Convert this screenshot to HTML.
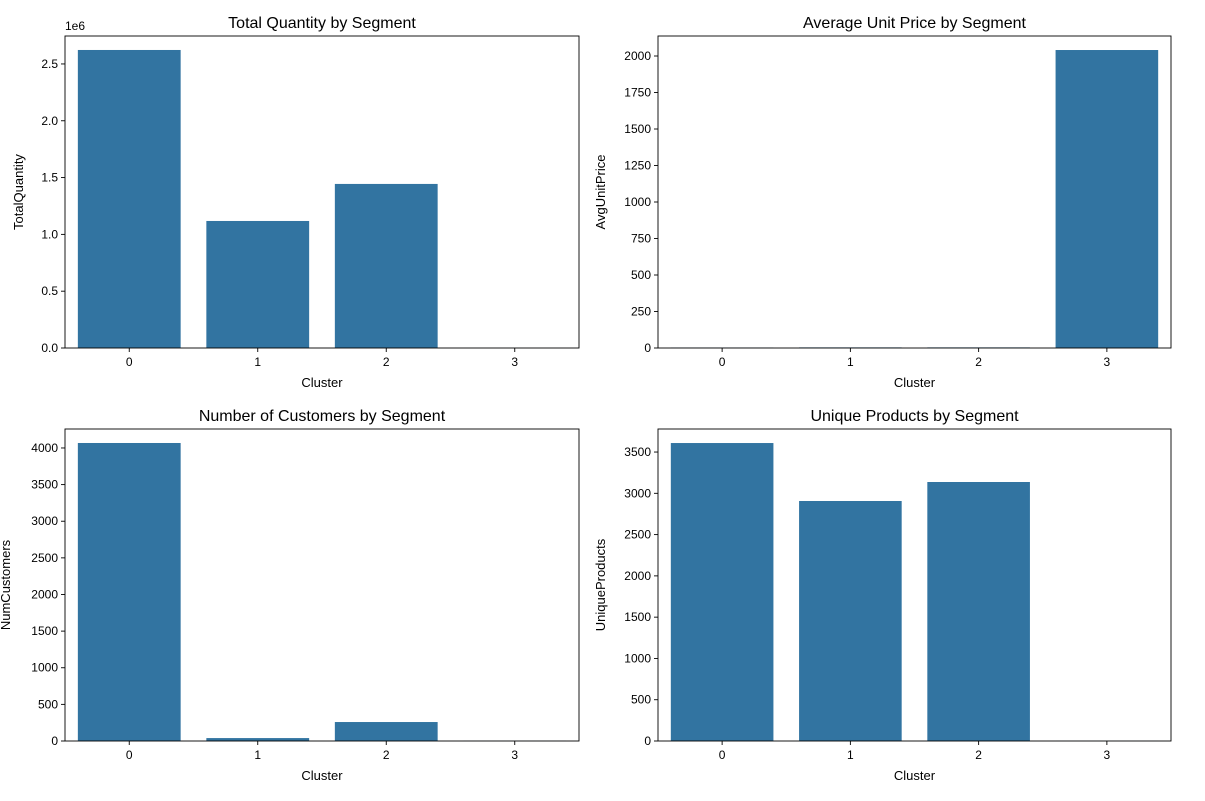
<!DOCTYPE html>
<html><head><meta charset="utf-8"><style>
body{margin:0;background:#fff;}
svg{display:block;font-family:"Liberation Sans","DejaVu Sans",sans-serif;}
</style></head><body>
<svg id="fig" width="1205" height="801"></svg>
<script>
const categories = ["0","1","2","3"];
const qtyValues = [2.623, 1.118, 1.444, 0.0005];
const priceValues = [3, 4, 4, 2041];
const custValues = [4068, 40, 259, 2];
const prodValues = [3609, 2907, 3137, 1];
const qtyTicks = [0, 0.5, 1.0, 1.5, 2.0, 2.5];
const qtyTickLabels = ["0.0","0.5","1.0","1.5","2.0","2.5"];
const priceTicks = [0,250,500,750,1000,1250,1500,1750,2000];
const custTicks = [0,500,1000,1500,2000,2500,3000,3500,4000];
const prodTicks = [0,500,1000,1500,2000,2500,3000,3500];

const NS="http://www.w3.org/2000/svg";
const svg=document.getElementById('fig');
function mk(tag,attrs,parent){const e=document.createElementNS(NS,tag);for(const k in attrs)e.setAttribute(k,attrs[k]);(parent||svg).appendChild(e);return e;}

const panels=[
 {name:"total-quantity",title:"Total Quantity by Segment",ylabel:"TotalQuantity",vals:qtyValues,ticks:qtyTicks,labels:qtyTickLabels,ymax:2.746,x0:65,x1:579,y0:36,y1:348,offset:"1e6"},
 {name:"avg-unit-price",title:"Average Unit Price by Segment",ylabel:"AvgUnitPrice",vals:priceValues,ticks:priceTicks,labels:priceTicks.map(String),ymax:2137,x0:658,x1:1171,y0:36,y1:348},
 {name:"num-customers",title:"Number of Customers by Segment",ylabel:"NumCustomers",vals:custValues,ticks:custTicks,labels:custTicks.map(String),ymax:4259,x0:65,x1:579,y0:429,y1:741},
 {name:"unique-products",title:"Unique Products by Segment",ylabel:"UniqueProducts",vals:prodValues,ticks:prodTicks,labels:prodTicks.map(String),ymax:3779,x0:658,x1:1171,y0:429,y1:741}
];

panels.forEach(p=>{
 const g=mk('g',{});
 
 
 const w=p.x1-p.x0,h=p.y1-p.y0;
 const ys=v=>p.y1-v/p.ymax*h;
 const band=w/categories.length;
 const xs=i=>p.x0+band*(i+0.5);
 p.vals.forEach((v,i)=>{
  const bw=band*0.8;
  const r=mk('rect',{x:xs(i)-bw/2,y:ys(v),width:bw,height:p.y1-ys(v),fill:"#3274a1"},g);
  
  
 });
 const frame=mk('rect',{x:p.x0,y:p.y0,width:w,height:h,fill:"none",stroke:"#000","stroke-width":0.9},g);
 
 
 p.ticks.forEach((t,i)=>{
  const y=ys(t);
  mk('line',{x1:p.x0-4,x2:p.x0,y1:y,y2:y,stroke:"#000","stroke-width":0.9},g);
  const tx=mk('text',{x:p.x0-7,y:y+4,"text-anchor":"end","font-size":12},g);
  tx.textContent=p.labels[i];
  
  
 });
 categories.forEach((c,i)=>{
  const x=xs(i);
  mk('line',{x1:x,x2:x,y1:p.y1,y2:p.y1+4,stroke:"#000","stroke-width":0.9},g);
  const tx=mk('text',{x:x,y:p.y1+18,"text-anchor":"middle","font-size":12},g);
  tx.textContent=c;
  
  
 });
 const tt=mk('text',{x:(p.x0+p.x1)/2,y:p.y0-8,"text-anchor":"middle","font-size":16},g);
 tt.textContent=p.title;
 
 
 const xl=mk('text',{x:(p.x0+p.x1)/2,y:p.y1+39,"text-anchor":"middle","font-size":13},g);
 xl.textContent="Cluster";
 
 
 const yx=p.x0-(p.offset?42:(p.name==="avg-unit-price"||p.name==="unique-products"?53:55));
 const yl=mk('text',{x:yx,y:(p.y0+p.y1)/2,"text-anchor":"middle","font-size":13,transform:`rotate(-90 ${yx} ${(p.y0+p.y1)/2})`},g);
 yl.textContent=p.ylabel;
 
 
 if(p.offset){
  const o=mk('text',{x:p.x0,y:p.y0-6,"font-size":12},g);
  o.textContent=p.offset;
  
  
 }
});
</script>
</body></html>
